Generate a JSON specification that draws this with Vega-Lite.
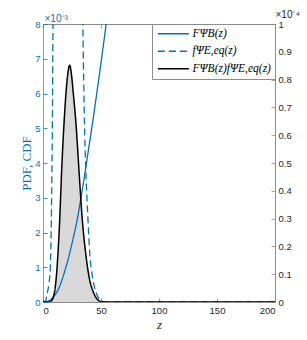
{
  "$schema": "https://vega.github.io/schema/vega-lite/v6.json",
  "width": 232,
  "height": 278,
  "autosize": {"type": "none"},
  "padding": {"left": 43, "top": 24, "right": 32, "bottom": 38},
  "background": "white",
  "config": {
    "view": {"stroke": null},
    "axis": {"grid": false, "labelFont": "Liberation Sans", "labelFontSize": 9.5, "tickSize": -4, "labelPadding": 7, "domainWidth": 1, "tickWidth": 0.8},
    "legend": {
      "orient": "top-right", "offset": 0, "title": null,
      "symbolType": "M-1,0H7", "symbolSize": 60, "symbolStrokeWidth": 1.4,
      "labelFont": "Liberation Serif", "labelFontStyle": "italic", "labelFontSize": 11.5, "labelColor": "#000000",
      "strokeColor": "#8c8c8c", "fillColor": "white", "padding": 4, "rowPadding": 4.5, "labelOffset": 25
    }
  },
  "data": {
    "values": [
      {"s": "F", "z": 0, "v": 0}, {"s": "F", "z": 2, "v": 0.000004}, {"s": "F", "z": 4, "v": 0.00002}, {"s": "F", "z": 6, "v": 0.000055},
      {"s": "F", "z": 8, "v": 0.00011}, {"s": "F", "z": 10, "v": 0.00019}, {"s": "F", "z": 12, "v": 0.00029}, {"s": "F", "z": 14, "v": 0.00042},
      {"s": "F", "z": 16, "v": 0.0006}, {"s": "F", "z": 18, "v": 0.0008}, {"s": "F", "z": 20, "v": 0.00103}, {"s": "F", "z": 22, "v": 0.00127},
      {"s": "F", "z": 24, "v": 0.00155}, {"s": "F", "z": 26, "v": 0.00183}, {"s": "F", "z": 28, "v": 0.00213}, {"s": "F", "z": 30, "v": 0.00246},
      {"s": "F", "z": 32, "v": 0.00285}, {"s": "F", "z": 34, "v": 0.00325}, {"s": "F", "z": 36, "v": 0.00368}, {"s": "F", "z": 38, "v": 0.00412},
      {"s": "F", "z": 40, "v": 0.00456}, {"s": "F", "z": 42, "v": 0.005}, {"s": "F", "z": 44, "v": 0.00545}, {"s": "F", "z": 46, "v": 0.00592},
      {"s": "F", "z": 48, "v": 0.0064}, {"s": "F", "z": 50, "v": 0.00688}, {"s": "F", "z": 52, "v": 0.00738}, {"s": "F", "z": 54, "v": 0.00788},
      {"s": "F", "z": 56, "v": 0.00838}, {"s": "F", "z": 60, "v": 0.0094},
      {"s": "f", "z": 0, "v": 0}, {"s": "f", "z": 1, "v": 0}, {"s": "f", "z": 2.5, "v": 0.00006}, {"s": "f", "z": 3.5, "v": 0.00022},
      {"s": "f", "z": 5, "v": 0.0005}, {"s": "f", "z": 5.8, "v": 0.00073}, {"s": "f", "z": 6.6, "v": 0.0013}, {"s": "f", "z": 7.2, "v": 0.00236},
      {"s": "f", "z": 7.7, "v": 0.0038}, {"s": "f", "z": 8.1, "v": 0.00524}, {"s": "f", "z": 8.6, "v": 0.008}, {"s": "f", "z": 9, "v": 0.01},
      {"s": "f", "z": 9.5, "v": 0.0125}, {"s": "f", "z": 11, "v": 0.02}, {"s": "f", "z": 14, "v": 0.035}, {"s": "f", "z": 18, "v": 0.048},
      {"s": "f", "z": 22, "v": 0.052}, {"s": "f", "z": 26, "v": 0.045}, {"s": "f", "z": 30, "v": 0.028}, {"s": "f", "z": 33, "v": 0.013},
      {"s": "f", "z": 34.4, "v": 0.008}, {"s": "f", "z": 35.7, "v": 0.00524}, {"s": "f", "z": 36.9, "v": 0.0038}, {"s": "f", "z": 38.8, "v": 0.00236},
      {"s": "f", "z": 40.3, "v": 0.0014}, {"s": "f", "z": 42.6, "v": 0.00073}, {"s": "f", "z": 46, "v": 0.00026}, {"s": "f", "z": 48.5, "v": 0.00008},
      {"s": "f", "z": 51.5, "v": 0.00002}, {"s": "f", "z": 55, "v": 0}, {"s": "f", "z": 200, "v": 0},
      {"s": "P", "z": 0, "v": 0}, {"s": "P", "z": 5, "v": 0}, {"s": "P", "z": 7, "v": 0.000000375}, {"s": "P", "z": 9, "v": 0.000001875},
      {"s": "P", "z": 10, "v": 0.00000375}, {"s": "P", "z": 11.5, "v": 0.0000091}, {"s": "P", "z": 12.9, "v": 0.0000175}, {"s": "P", "z": 14.4, "v": 0.0000295},
      {"s": "P", "z": 16.1, "v": 0.0000475}, {"s": "P", "z": 18.3, "v": 0.0000655}, {"s": "P", "z": 20, "v": 0.0000762}, {"s": "P", "z": 21.5, "v": 0.0000825},
      {"s": "P", "z": 23, "v": 0.0000852}, {"s": "P", "z": 24.5, "v": 0.0000819}, {"s": "P", "z": 26, "v": 0.0000756}, {"s": "P", "z": 27, "v": 0.0000712},
      {"s": "P", "z": 28.2, "v": 0.0000655}, {"s": "P", "z": 29.5, "v": 0.0000575}, {"s": "P", "z": 31, "v": 0.0000475}, {"s": "P", "z": 33.9, "v": 0.0000295},
      {"s": "P", "z": 36.8, "v": 0.0000175}, {"s": "P", "z": 39.7, "v": 0.0000091}, {"s": "P", "z": 43.7, "v": 0.00000325}, {"s": "P", "z": 47, "v": 0.000000875},
      {"s": "P", "z": 50.3, "v": 0.000000125}, {"s": "P", "z": 55, "v": 0}, {"s": "P", "z": 200, "v": 0}
    ]
  },
  "layer": [
    {
      "transform": [{"filter": "datum.s === 'P'"}],
      "mark": {"type": "area", "color": "#d9d9d9", "interpolate": "monotone", "clip": true},
      "encoding": {
        "x": {"field": "z", "type": "quantitative", "scale": {"domain": [0, 200], "nice": false},
          "axis": {"orient": "bottom", "values": [0, 50, 100, 150, 200], "title": "z", "titleFont": "Liberation Serif", "titleFontStyle": "italic", "titleFontWeight": "normal", "titleFontSize": 13, "titleColor": "#262626", "titlePadding": 4, "labelColor": "#262626", "domainColor": "#8c8c8c", "tickColor": "#8c8c8c"}},
        "y": {"field": "v", "type": "quantitative", "scale": {"domain": [0, 0.0001], "nice": false},
          "axis": {"orient": "right", "values": [0, 0.00001, 0.00002, 0.00003, 0.00004, 0.00005, 0.00006, 0.00007, 0.00008, 0.00009, 0.0001], "labelExpr": "format(datum.value*10000, '~g')", "labelColor": "#262626", "domainColor": "#8c8c8c", "tickColor": "#8c8c8c", "title": "×10⁻⁴", "titleAngle": 0, "titleX": 0, "titleY": -7, "titleAlign": "left", "titleBaseline": "alphabetic", "titleFont": "Liberation Sans", "titleFontSize": 10, "titleFontWeight": "normal", "titleColor": "#262626"}}
      }
    },
    {
      "transform": [{"filter": "datum.s !== 'P'"}],
      "mark": {"type": "line", "interpolate": "monotone", "clip": true, "strokeWidth": 1.3},
      "encoding": {
        "x": {"field": "z", "type": "quantitative", "scale": {"domain": [0, 200], "nice": false},
          "axis": {"orient": "top", "values": [0, 50, 100, 150, 200], "labels": false, "domainColor": "#8c8c8c", "tickColor": "#8c8c8c", "title": "×10⁻³", "titleAngle": 0, "titleX": 1, "titleY": -3, "titleAlign": "left", "titleBaseline": "alphabetic", "titleFont": "Liberation Sans", "titleFontSize": 10, "titleFontWeight": "normal", "titleColor": "#0072BD"}},
        "y": {"field": "v", "type": "quantitative", "scale": {"domain": [0, 0.008], "nice": false},
          "axis": {"orient": "left", "values": [0, 0.001, 0.002, 0.003, 0.004, 0.005, 0.006, 0.007, 0.008], "labelExpr": "round(datum.value*1000)", "labelColor": "#0072BD", "domainColor": "#0072BD", "domainOpacity": 0.6, "tickColor": "#0072BD", "title": "PDF, CDF", "titleFont": "Liberation Serif", "titleFontSize": 13, "titleFontWeight": "normal", "titleColor": "#0072BD", "titlePadding": 1}},
        "color": {"field": "s", "type": "nominal", "scale": {"domain": ["F", "f", "P"], "range": ["#0072BD", "#0072BD", "#000000"]},
          "legend": {"labelExpr": "datum.value === 'F' ? 'FΨB(z)' : datum.value === 'f' ? 'fΨE,eq(z)' : 'FΨB(z)fΨE,eq(z)'"}},
        "strokeDash": {"field": "s", "type": "nominal", "scale": {"domain": ["F", "f", "P"], "range": [[1, 0], [7, 4], [1, 0]]},
          "legend": {"labelExpr": "datum.value === 'F' ? 'FΨB(z)' : datum.value === 'f' ? 'fΨE,eq(z)' : 'FΨB(z)fΨE,eq(z)'"}}
      }
    },
    {
      "transform": [{"filter": "datum.s === 'P'"}],
      "mark": {"type": "line", "interpolate": "monotone", "clip": true, "strokeWidth": 1.5},
      "encoding": {
        "x": {"field": "z", "type": "quantitative", "scale": {"domain": [0, 200], "nice": false}, "axis": null},
        "y": {"field": "v", "type": "quantitative", "scale": {"domain": [0, 0.0001], "nice": false}, "axis": null},
        "color": {"field": "s", "type": "nominal", "scale": {"domain": ["F", "f", "P"], "range": ["#0072BD", "#0072BD", "#000000"]}},
        "strokeDash": {"field": "s", "type": "nominal", "scale": {"domain": ["F", "f", "P"], "range": [[1, 0], [7, 4], [1, 0]]}}
      }
    }
  ],
  "resolve": {"scale": {"y": "independent", "x": "independent"}}
}
